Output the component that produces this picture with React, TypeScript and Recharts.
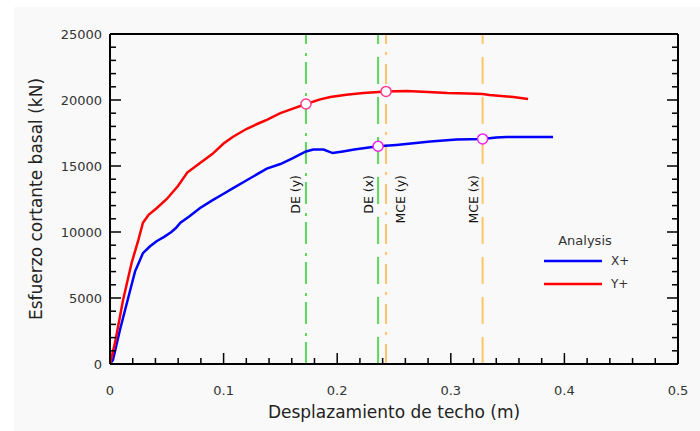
import React from 'react';
import {
  ComposedChart,
  Line,
  XAxis,
  YAxis,
  ReferenceLine,
  ReferenceDot,
  Legend,
} from 'recharts';

// pushover curve, direction X+
const xPlusDisp = [
  0, 0.0026, 0.0088, 0.016, 0.022, 0.029, 0.035, 0.041, 0.048, 0.054, 0.058, 0.062, 0.07,
  0.079, 0.09, 0.1, 0.108, 0.12, 0.13, 0.138, 0.15, 0.161, 0.1725, 0.179, 0.188, 0.196,
  0.205, 0.215, 0.223, 0.236, 0.252, 0.265, 0.282, 0.305, 0.328, 0.34, 0.349, 0.39,
];
const xPlusShear = [
  0, 300, 2600, 5000, 7000, 8400, 8900, 9300, 9650, 10000, 10300, 10700, 11200, 11800,
  12400, 12900, 13300, 13900, 14400, 14800, 15150, 15600, 16100, 16250, 16250, 15980,
  16100, 16250, 16350, 16500, 16600, 16700, 16850, 17000, 17050, 17150, 17200, 17200,
];

// pushover curve, direction Y+
const yPlusDisp = [
  0, 0.0044, 0.0115, 0.019, 0.025, 0.029, 0.034, 0.041, 0.05, 0.06, 0.068, 0.079, 0.09,
  0.1, 0.108, 0.12, 0.13, 0.138, 0.15, 0.161, 0.1725, 0.185, 0.194, 0.208, 0.223, 0.243,
  0.261, 0.28, 0.297, 0.315, 0.328, 0.334, 0.355, 0.368,
];
const yPlusShear = [
  0, 1600, 4850, 7650, 9400, 10700, 11300, 11800, 12500, 13500, 14500, 15200, 15900,
  16700, 17200, 17800, 18200, 18500, 19000, 19350, 19700, 20050, 20230, 20400, 20530,
  20650, 20680, 20600, 20530, 20500, 20450, 20380, 20230, 20070,
];

// performance levels (roof displacement)
const levelNames = ['DE (y)', 'DE (x)', 'MCE (y)', 'MCE (x)'];
const levelDisp = [0.1725, 0.236, 0.243, 0.328];

// performance points on the curves
const redPoints = [
  { d: 0.1725, v: 19700 },
  { d: 0.243, v: 20650 },
];
const bluePoints = [
  { d: 0.236, v: 16500 },
  { d: 0.328, v: 17050 },
];

const xTicks = [
  0, 0.02, 0.04, 0.06, 0.08, 0.1, 0.12, 0.14, 0.16, 0.18, 0.2, 0.22, 0.24, 0.26, 0.28, 0.3,
  0.32, 0.34, 0.36, 0.38, 0.4, 0.42, 0.44, 0.46, 0.48, 0.5,
];
const yTicks = [
  0, 1000, 2000, 3000, 4000, 5000, 6000, 7000, 8000, 9000, 10000, 11000, 12000, 13000,
  14000, 15000, 16000, 17000, 18000, 19000, 20000, 21000, 22000, 23000, 24000, 25000,
];

const xPlusData = xPlusDisp.map((d, i) => ({ d, v: xPlusShear[i] }));
const yPlusData = yPlusDisp.map((d, i) => ({ d, v: yPlusShear[i] }));

const FONT = '"DejaVu Sans", Verdana, sans-serif';
const TXT = '#333';

const isMajorX = (v: number) => Math.round(v * 100) % 10 === 0;
const isMajorY = (v: number) => v % 5000 === 0;

const BottomTick = (props: any) => {
  const { x, y, payload } = props;
  const major = isMajorX(payload.value);
  return (
    <g>
      <line x1={x} y1={y} x2={x} y2={y - (major ? 11 : 6)} stroke="#000" strokeWidth={1.5} />
      {major && (
        <text x={x} y={y + 26} dy="0.35em" textAnchor="middle" fontSize={13} fontFamily={FONT} fill={TXT}>
          {payload.value === 0 ? '0' : payload.value.toFixed(1)}
        </text>
      )}
    </g>
  );
};

const TopTick = (props: any) => {
  const { x, y, payload } = props;
  const major = isMajorX(payload.value);
  return <line x1={x} y1={y} x2={x} y2={y + (major ? 11 : 6)} stroke="#000" strokeWidth={1.5} />;
};

const LeftTick = (props: any) => {
  const { x, y, payload } = props;
  const major = isMajorY(payload.value);
  return (
    <g>
      <line x1={x} y1={y} x2={x + (major ? 11 : 6)} y2={y} stroke="#000" strokeWidth={1.5} />
      {major && (
        <text x={x - 8} y={y} dy="0.35em" textAnchor="end" fontSize={13} fontFamily={FONT} fill={TXT}>
          {payload.value}
        </text>
      )}
    </g>
  );
};

const RightTick = (props: any) => {
  const { x, y, payload } = props;
  const major = isMajorY(payload.value);
  return <line x1={x} y1={y} x2={x - (major ? 11 : 6)} y2={y} stroke="#000" strokeWidth={1.5} />;
};

const levelStyle = [
  { color: '#5cd65c', dash: '22 6 3 9', dx: -6 },
  { color: '#5cd65c', dash: '27 13', dx: -5 },
  { color: '#ffc46a', dash: '20 9 3 8', dx: 19 },
  { color: '#ffc46a', dash: '27 13', dx: -5 },
];

const levelLabel = (name: string, dx: number) => (props: any) => {
  const vb = props.viewBox || {};
  const x = vb.x + dx;
  const y = vb.y + 141;
  return (
    <text
      x={x}
      y={y}
      transform={`rotate(-90 ${x} ${y})`}
      textAnchor="end"
      fontSize={12.5}
      fontFamily={FONT}
      fill="#111"
    >
      {name}
    </text>
  );
};

const LegendBox = () => (
  <svg width={100} height={70}>
    <text x={55} y={15} dy="0.35em" textAnchor="middle" fontSize={13} fontFamily={FONT} fill={TXT}>
      Analysis
    </text>
    <line x1={14} y1={36} x2={72} y2={36} stroke="#0000ff" strokeWidth={2.5} />
    <text x={81} y={36} dy="0.35em" fontSize={12} fontFamily={FONT} fill={TXT}>
      X+
    </text>
    <line x1={14} y1={59} x2={72} y2={59} stroke="#ff0000" strokeWidth={2.5} />
    <text x={81} y={59} dy="0.35em" fontSize={12} fontFamily={FONT} fill={TXT}>
      Y+
    </text>
  </svg>
);

export default function App() {
  return (
    <div style={{ position: 'absolute', left: 0, top: 0, width: 700, height: 431, background: '#fff' }}>
      <div style={{ position: 'absolute', left: 14, top: 7, width: 686, height: 424, background: '#f9f9f9' }}>
        <ComposedChart width={686} height={424} margin={{ top: 0, right: 0, bottom: 0, left: 0 }}>
          <XAxis
            xAxisId="b"
            dataKey="d"
            type="number"
            domain={[0, 0.5]}
            ticks={xTicks}
            interval={0}
            height={67}
            tickSize={0}
            tickMargin={0}
            tickLine={false}
            axisLine={{ stroke: '#000', strokeWidth: 2 }}
            tick={BottomTick}
            allowDataOverflow
            label={{
              content: (p: any) => {
                const vb = p.viewBox;
                return (
                  <text x={vb.x + vb.width / 2} y={vb.y + 48} dy="0.35em" textAnchor="middle" fontSize={17} fontFamily={FONT} fill="#222">
                    Desplazamiento de techo (m)
                  </text>
                );
              },
            }}
          />
          <XAxis
            xAxisId="t"
            orientation="top"
            type="number"
            domain={[0, 0.5]}
            ticks={xTicks}
            interval={0}
            height={27}
            tickSize={0}
            tickMargin={0}
            tickLine={false}
            axisLine={{ stroke: '#000', strokeWidth: 2 }}
            tick={TopTick}
            allowDataOverflow
          />
          <YAxis
            yAxisId="l"
            type="number"
            domain={[0, 25000]}
            ticks={yTicks}
            interval={0}
            width={96}
            tickSize={0}
            tickMargin={0}
            tickLine={false}
            axisLine={{ stroke: '#000', strokeWidth: 2 }}
            tick={LeftTick}
            allowDataOverflow
            label={{
              content: (p: any) => {
                const vb = p.viewBox;
                const x = 22;
                const y = vb.y + vb.height / 2;
                return (
                  <text x={x} y={y} dy="0.35em" transform={`rotate(-90 ${x} ${y})`} textAnchor="middle" fontSize={17} fontFamily={FONT} fill="#222">
                    Esfuerzo cortante basal (kN)
                  </text>
                );
              },
            }}
          />
          <YAxis
            yAxisId="r"
            orientation="right"
            type="number"
            domain={[0, 25000]}
            ticks={yTicks}
            interval={0}
            width={22}
            tickSize={0}
            tickMargin={0}
            tickLine={false}
            axisLine={{ stroke: '#000', strokeWidth: 2 }}
            tick={RightTick}
            allowDataOverflow
          />
          {levelDisp.map((d, i) => (
            <ReferenceLine
              key={levelNames[i]}
              xAxisId="b"
              yAxisId="l"
              x={d}
              stroke={levelStyle[i].color}
              strokeWidth={2}
              strokeDasharray={levelStyle[i].dash}
              label={{ content: levelLabel(levelNames[i], levelStyle[i].dx) }}
            />
          ))}
          <Line
            xAxisId="b"
            yAxisId="l"
            data={xPlusData}
            dataKey="v"
            type="linear"
            stroke="#0000ff"
            strokeWidth={2.5}
            dot={false}
            isAnimationActive={false}
            name="X+"
          />
          <Line
            xAxisId="b"
            yAxisId="l"
            data={yPlusData}
            dataKey="v"
            type="linear"
            stroke="#ff0000"
            strokeWidth={2.5}
            dot={false}
            isAnimationActive={false}
            name="Y+"
          />
          {redPoints.map((p) => (
            <ReferenceDot key={'r' + p.d} xAxisId="b" yAxisId="l" x={p.d} y={p.v} r={5} fill="#fff" stroke="#ff3c8c" strokeWidth={1.5} />
          ))}
          {bluePoints.map((p) => (
            <ReferenceDot key={'b' + p.d} xAxisId="b" yAxisId="l" x={p.d} y={p.v} r={5} fill="#fff" stroke="#ee22ee" strokeWidth={1.5} />
          ))}
          <Legend
            layout="horizontal"
            verticalAlign="middle"
            align="center"
            content={() => <LegendBox />}
            wrapperStyle={{ left: 516, top: 218, width: 100, height: 70 }}
          />
        </ComposedChart>
      </div>
    </div>
  );
}
